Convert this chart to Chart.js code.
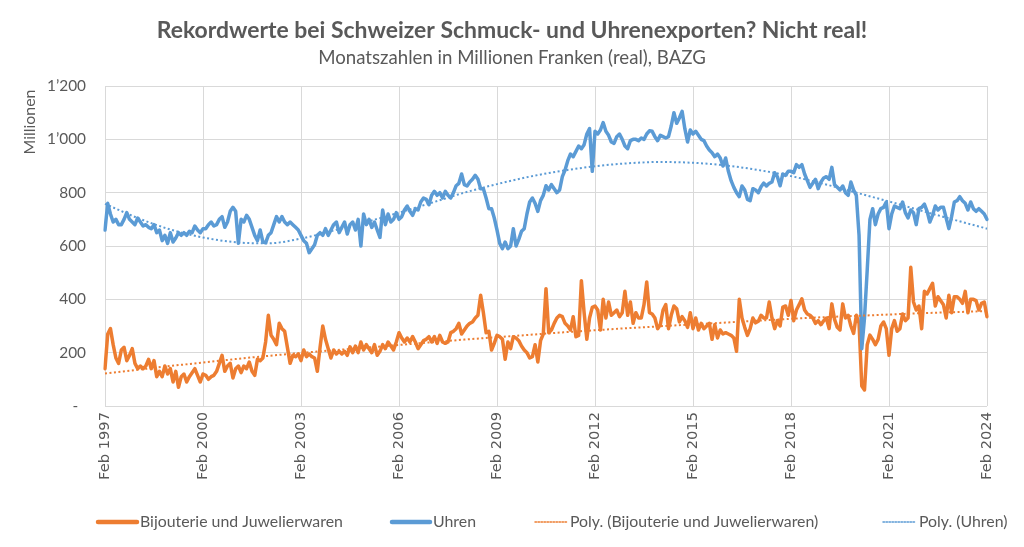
<!DOCTYPE html>
<html><head><meta charset="utf-8">
<script src="https://cdn.jsdelivr.net/npm/chart.js@4.4.0/dist/chart.umd.min.js"></script>
<style>html,body{margin:0;padding:0;background:#fff;}#wrap{width:1024px;height:547px;}</style>
</head><body><div id="wrap"><canvas id="c" width="1024" height="547"></canvas></div>
<script>
// ---------- texts ----------
const TITLE = 'Rekordwerte bei Schweizer Schmuck- und Uhrenexporten? Nicht real!';
const SUBTITLE = 'Monatszahlen in Millionen Franken (real), BAZG';
const Y_TITLE = 'Millionen';
const SERIES_NAMES = ['Bijouterie und Juwelierwaren', 'Uhren', 'Poly. (Bijouterie und Juwelierwaren)', 'Poly. (Uhren)'];

// ---------- categories (monthly, Feb 1997 .. Feb 2024) ----------
const MONTHS = ['Jan','Feb','Mar','Apr','May','Jun','Jul','Aug','Sep','Oct','Nov','Dec'];
const categories = [];
for (let k = 0; k < 325; k++) { const m = (1 + k) % 12; const y = 1997 + Math.floor((1 + k) / 12); categories.push(MONTHS[m] + ' ' + y); }
const tickLabels = ['Feb 1997','Feb 2000','Feb 2003','Feb 2006','Feb 2009','Feb 2012','Feb 2015','Feb 2018','Feb 2021','Feb 2024'];
const yTickValues = [0, 200, 400, 600, 800, 1000, 1200];
const yTickTexts = ['-\u2002', '200', '400', '600', '800', '1\u2019000', '1\u2019200'];

// ---------- series values (Mio. CHF, real) ----------
const uhren = [
660,760,720,690,700,680,680,700,725,700,
690,680,705,690,675,680,670,665,680,650,
660,620,640,610,650,615,630,650,640,650,
640,655,650,675,660,650,665,665,680,690,
675,680,700,710,670,690,730,745,730,610,
700,690,715,700,670,640,620,660,615,612,
640,650,680,710,690,710,690,680,690,680,
670,660,640,620,610,575,590,605,640,650,
640,665,640,660,680,690,650,670,690,645,
680,690,660,700,600,720,680,700,670,690,
660,632,735,680,720,690,700,725,700,710,
735,750,730,715,740,735,765,780,775,755,
790,805,790,800,780,805,790,780,800,826,
835,870,830,825,840,850,865,850,815,815,
780,740,740,705,660,610,590,615,590,600,
665,600,625,655,665,720,765,780,760,730,
770,790,826,810,830,815,800,810,860,885,
920,945,935,955,975,965,980,1020,1040,880,
1030,1020,1035,1063,1030,1015,990,985,1010,1020,
1000,975,965,995,1000,1000,995,1005,1000,1020,
1032,1030,1010,995,1015,1010,1005,1010,1050,1100,
1060,1080,1105,1040,990,1035,1020,1030,1015,1000,
995,975,960,950,935,945,930,900,930,880,
845,820,800,785,825,810,775,770,815,810,
800,822,836,825,835,840,875,860,826,870,
865,880,880,875,905,895,905,870,845,820,
835,850,815,840,855,860,850,895,830,820,
810,825,800,790,840,810,790,640,215,330,
510,700,740,680,720,740,745,765,665,720,
750,745,740,765,725,705,735,725,680,740,
745,757,730,690,715,750,735,745,745,705,
665,710,765,770,785,770,760,735,765,740,
730,740,730,720,700];

const bijouterie = [
140,270,290,230,180,160,210,220,170,190,
215,160,140,150,140,150,175,140,170,110,
130,110,150,120,140,90,130,70,110,120,
90,110,125,140,115,90,120,115,100,110,
115,130,160,190,130,150,160,105,140,150,
125,150,140,165,130,115,175,170,180,240,
340,265,250,230,310,290,280,220,160,190,
185,195,170,210,185,195,185,180,130,220,
300,250,215,180,210,195,205,195,205,190,
222,200,225,200,240,210,230,215,200,230,
190,205,230,215,240,225,210,240,275,255,
240,255,240,260,240,215,230,245,250,260,
240,260,235,265,240,235,240,275,280,290,
310,270,285,300,310,315,330,340,415,350,
275,280,210,235,265,260,250,175,240,215,
260,255,245,225,210,200,180,185,230,165,
245,270,440,275,285,310,330,340,335,310,
300,285,335,260,265,470,350,250,330,370,
375,360,285,400,330,390,340,350,360,335,
350,430,340,390,310,350,330,330,380,465,
350,345,330,290,305,360,380,290,340,375,
365,315,335,320,295,350,290,330,285,310,
290,300,310,250,305,255,285,270,275,270,
265,255,205,400,330,295,265,290,330,312,
318,340,330,330,390,330,290,320,300,371,
375,340,396,320,360,380,402,360,345,340,
330,310,320,305,320,330,290,383,325,295,
285,383,330,340,300,272,340,310,75,60,
230,266,250,230,250,300,315,290,190,290,
320,280,290,345,320,330,520,390,360,375,
290,430,420,440,460,375,410,395,380,330,
415,350,410,410,400,385,430,350,400,400,
395,360,385,390,335];

// ---------- trendlines, each February ----------
const trendMonths = ['Feb 1997','Feb 1998','Feb 1999','Feb 2000','Feb 2001','Feb 2002','Feb 2003','Feb 2004','Feb 2005','Feb 2006','Feb 2007','Feb 2008','Feb 2009','Feb 2010','Feb 2011','Feb 2012','Feb 2013','Feb 2014','Feb 2015','Feb 2016','Feb 2017','Feb 2018','Feb 2019','Feb 2020','Feb 2021','Feb 2022','Feb 2023','Feb 2024'];
const polyUhren = [758,705,662,632,614,610,628,658,690,725,762,800,832,860,882,899,910,915,912,902,885,862,833,800,767,732,698,665];
const polyBijouterie = [122,136,150,163,176,188,199,209,219,229,239,249,258,267,276,284,292,299,306,313,320,327,333,338,343,348,352,356];

// ---------- styling ----------
const ORANGE = '#ED7D31', BLUE = '#5B9BD5', TEXT = '#595959', GRID = '#d9d9d9';
const FAMILY = 'Lato, "Liberation Sans", sans-serif';
const TICKFAMILY = '"DejaVu Sans", sans-serif';
const mctx = document.createElement('canvas').getContext('2d');
function fit(text, weight, family, target) { mctx.font = weight + ' 100px ' + family; return 100 * target / mctx.measureText(text).width; }
const titleSize = fit(TITLE, 'bold', FAMILY, 711);
const subSize = fit(SUBTITLE, 'normal', FAMILY, 388);
const legSize = fit(SERIES_NAMES[0], 'normal', FAMILY, 203);
const yTitleSize = fit(Y_TITLE, 'normal', FAMILY, 65);
const xTickSize = fit('Feb 1997', 'normal', TICKFAMILY, 68);
const yTickSize = fit('1\u2019200', 'normal', FAMILY, 39);
const tickSet = new Set(tickLabels);

const decor = {
  id: 'decor',
  beforeDraw(chart) { const c = chart.ctx; c.save(); c.fillStyle = '#fff'; c.fillRect(0, 0, chart.width, chart.height); c.restore(); },
  afterDraw(chart) {
    const c = chart.ctx; c.save();
    c.fillStyle = TEXT; c.textAlign = 'center'; c.textBaseline = 'middle';
    c.font = 'bold ' + titleSize + 'px ' + FAMILY; c.fillText(TITLE, 512, 31);
    c.font = subSize + 'px ' + FAMILY; c.fillText(SUBTITLE, 512, 58);
    c.save(); c.translate(30, 122); c.rotate(-Math.PI / 2); c.font = yTitleSize + 'px ' + FAMILY; c.fillText(Y_TITLE, 0, 0); c.restore();
    const items = [
      { x0: 98, x1: 137, tx: 140, color: ORANGE, dotted: false, text: SERIES_NAMES[0] },
      { x0: 392, x1: 430, tx: 433, color: BLUE, dotted: false, text: SERIES_NAMES[1] },
      { x0: 535, x1: 567, tx: 570, color: ORANGE, dotted: true, text: SERIES_NAMES[2] },
      { x0: 883, x1: 916, tx: 919, color: BLUE, dotted: true, text: SERIES_NAMES[3] }
    ];
    const ly = 522;
    c.textAlign = 'left'; c.font = legSize + 'px ' + FAMILY;
    items.forEach(it => {
      c.beginPath(); c.strokeStyle = it.color;
      if (it.dotted) { c.lineWidth = 1.5; c.setLineDash([1.5, 1.5]); } else { c.lineWidth = 4.5; c.setLineDash([]); c.lineCap = 'round'; }
      c.moveTo(it.x0, ly); c.lineTo(it.x1, ly); c.stroke();
      c.fillStyle = TEXT; c.fillText(it.text, it.tx, ly);
    });
    c.restore();
  }
};

new Chart(document.getElementById('c'), {
  type: 'line',
  data: {
    labels: categories,
    datasets: [
      { label: SERIES_NAMES[3], data: polyUhren.map((v, k) => ({ x: trendMonths[k], y: v })), borderColor: BLUE, borderWidth: 2, borderDash: [2, 2.5], pointRadius: 0, tension: 0.4, cubicInterpolationMode: 'monotone', order: 0 },
      { label: SERIES_NAMES[2], data: polyBijouterie.map((v, k) => ({ x: trendMonths[k], y: v })), borderColor: ORANGE, borderWidth: 2, borderDash: [2, 2.5], pointRadius: 0, tension: 0.4, cubicInterpolationMode: 'monotone', order: 1 },
      { label: SERIES_NAMES[1], data: uhren, borderColor: BLUE, borderWidth: 3.5, pointRadius: 0, tension: 0, borderJoinStyle: 'round', borderCapStyle: 'round', order: 2 },
      { label: SERIES_NAMES[0], data: bijouterie, borderColor: ORANGE, borderWidth: 3.5, pointRadius: 0, tension: 0, borderJoinStyle: 'round', borderCapStyle: 'round', order: 3 }
    ]
  },
  options: {
    responsive: false, animation: false, devicePixelRatio: 1,
    layout: { padding: { top: 86, left: 0, right: 37, bottom: 0 } },
    plugins: { legend: { display: false }, title: { display: false }, tooltip: { enabled: false } },
    scales: {
      x: {
        type: 'category', offset: false,
        grid: { color: ctx => (ctx.tick && tickSet.has(categories[ctx.index])) ? GRID : 'rgba(0,0,0,0)', lineWidth: 1, drawTicks: false },
        border: { display: false },
        ticks: { autoSkip: false, maxRotation: 90, minRotation: 90, padding: 6, color: TEXT, font: { family: TICKFAMILY, size: xTickSize },
          callback: (v, i) => tickSet.has(categories[i]) ? categories[i] : '' },
        afterFit: s => { s.height = 141; }
      },
      y: {
        min: 0, max: 1200,
        grid: { color: GRID, lineWidth: 1, drawTicks: false },
        border: { display: false },
        ticks: { stepSize: 200, padding: 19, color: TEXT, font: { family: FAMILY, size: yTickSize },
          callback: v => yTickTexts[yTickValues.indexOf(v)] },
        afterFit: s => { s.width = 105; }
      }
    }
  },
  plugins: [decor]
});
</script></body></html>
